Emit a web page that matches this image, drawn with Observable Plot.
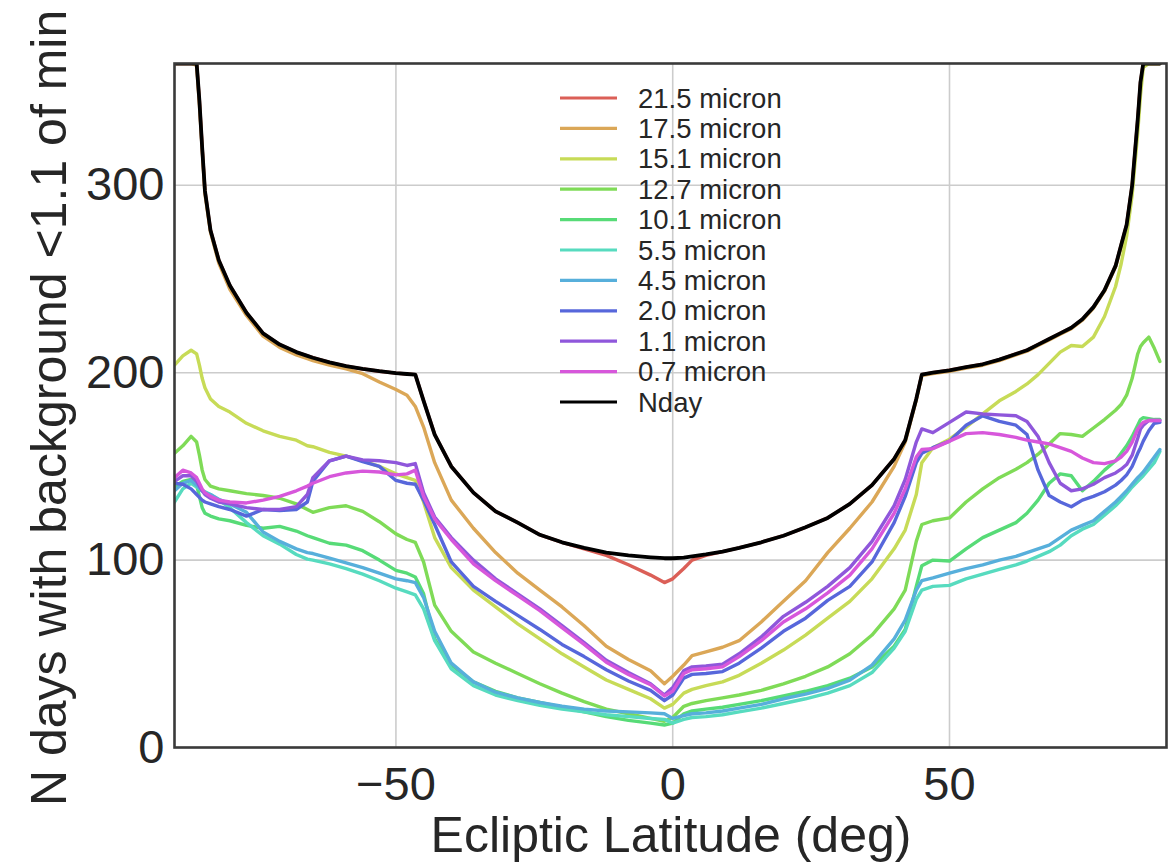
<!DOCTYPE html>
<html>
<head>
<meta charset="utf-8">
<script src="https://cdn.jsdelivr.net/npm/d3@7"></script>
<script src="https://cdn.jsdelivr.net/npm/@observablehq/plot@0.6"></script>
<style>
  html, body { margin: 0; padding: 0; background: #ffffff; }
  #chart { width: 1168px; height: 866px; }
</style>
</head>
<body>
<div id="chart"></div>
<script>
// Ecliptic latitude samples (deg)
const lat = [-90, -88.5, -87, -86, -85.5, -85, -84.5, -83.5, -82, -80,
  -77, -74, -71, -68, -66, -65, -62, -59, -56, -53,
  -50, -48, -46.5, -45, -43, -40, -36, -32, -28, -24,
  -20, -16, -12, -8, -4, -1.5, 0, 2, 3.5, 6,
  9, 12, 16, 20, 24, 28, 32, 36, 40, 42,
  44, 45, 47, 50, 53, 56, 59, 62, 64, 66,
  68, 70, 72, 74, 76, 78, 80, 81, 82, 83,
  84, 84.5, 85, 86, 87, 88];

// Number of observable days at each latitude
const nday = [365, 365, 365, 365, 345, 320, 297, 276, 260, 246.5,
  232, 221, 215, 211, 209, 208, 205.5, 203.5, 202, 200.8,
  199.8, 199.3, 199, 185, 167, 150, 136, 126, 120, 113.5,
  109.5, 106.5, 104, 102.5, 101.5, 101, 101, 101.3, 102, 103,
  104.5, 106.5, 109.5, 113, 117.5, 122.5, 130, 140, 154, 164,
  186, 199, 200, 201.3, 203, 204.5, 207, 210, 212, 215,
  218, 221, 224, 228.5, 235, 244, 257, 268, 279, 300,
  335, 355, 365, 365, 365, 365];

// Days with background below 1.1x the minimum, per wavelength
const w21_5 = [365, 365, 365, 365, 345, 320, 297, 276, 260, 246.5,
  232, 221, 215, 211, 209, 208, 205.5, 203.5, 202, 200.8,
  199.8, 199.3, 199, 185, 167, 150, 136, 126, 120, 113.5,
  109.5, 106, 102.5, 97.5, 92, 88, 90, 95.5, 100, 102.5,
  104.5, 106.5, 109.5, 113, 117.5, 122.5, 130, 140, 154, 164,
  186, 199, 200, 201.3, 203, 204.5, 207, 210, 212, 215,
  218, 221, 224, 228.5, 235, 244, 257, 268, 279, 300,
  335, 355, 365, 365, 365, 365];

const w17_5 = [365, 365, 365, 364, 343, 319, 295.5, 275, 258.5, 244.5,
  230.5, 219.5, 213.5, 209.5, 207.5, 206.5, 204, 202, 199.5, 195,
  191, 188, 182, 171, 152, 132, 117, 104, 93, 84,
  75, 65, 54, 47, 41, 34, 38, 44, 49, 51,
  53.5, 57, 67, 78, 89, 104, 117, 131, 150, 163,
  185.5, 198.5, 199.5, 200.8, 202.5, 204, 206.5, 209.5, 211.5, 214.5,
  217.5, 220.5, 223.5, 228, 234.5, 243.5, 256.5, 267, 278, 299,
  333, 353, 365, 365, 365, 365];

const w15_1 = [204, 209, 212, 210, 204, 197, 192, 186, 182, 179,
  173, 169, 166, 164, 161, 160.5, 157.5, 155.5, 153, 150,
  146, 144, 142.5, 131, 112, 96, 84, 75, 66, 58,
  50, 43, 36, 31, 26, 21, 23, 29, 31, 33,
  35, 38.5, 45, 52, 60, 69, 78, 90, 106, 116,
  135, 152, 160, 164.5, 171, 178, 185, 190, 194, 199,
  205, 211, 214.5, 214, 219, 230, 246, 258, 273, 295,
  328, 348, 363, 365, 365, 365];

const w12_7 = [157, 161, 166, 163, 156, 148, 143, 139.5, 138, 137,
  135.5, 134.5, 133, 130, 127, 125.5, 128, 129, 126, 120.5,
  114, 111, 109.5, 99, 76, 62, 51, 45, 39.5, 34,
  29, 24.5, 20.5, 18, 15.5, 14, 16, 22, 23.5, 25,
  26.5, 28, 30.5, 34, 38, 43, 50, 60, 74, 84,
  110, 119, 121, 122.5, 131, 138, 144, 148.5, 152, 156.5,
  162, 167.5, 167, 166, 170.5, 175, 180, 183, 188, 197,
  210, 214, 216, 219, 213, 206];

const w10_1 = [139, 142, 143, 140, 134, 128, 125, 123.5, 122, 121,
  118.5, 117, 118, 115.5, 113, 112, 109, 108, 105, 100,
  94.5, 93, 91, 82, 58, 44, 35, 30, 26.5, 24,
  21.5, 19, 16.5, 14.5, 13, 12, 13, 18, 19.5, 20.5,
  21.5, 23, 25, 27.5, 30, 33, 37, 43, 54, 63,
  86, 97, 100, 99.5, 106, 112, 116, 120, 125, 132,
  141, 146, 145, 137, 142, 148, 153, 157, 161, 166,
  172, 175, 176, 175.5, 175, 175];

const w5_5 = [131, 138, 141, 139, 138, 137, 136.5, 135, 132, 128,
  120, 113, 108.5, 103, 100.5, 100, 98, 95.5, 92.5, 89,
  85, 83, 81.5, 74, 57, 42, 33, 28, 25, 22.5,
  20.5, 19, 17.5, 16.5, 15.5, 15, 13, 15, 16, 16.5,
  17.5, 19, 21, 23.5, 26, 29, 33, 40, 53, 62,
  79, 84, 86, 86.5, 90, 92.5, 95, 97.5, 99.5, 102,
  104.5, 108, 113, 116.5, 119, 124, 129, 132, 135.5, 139,
  142, 143.5, 145, 148.5, 152, 158];

const w4_5 = [137, 141, 142.5, 140, 138.5, 137, 136, 135, 132.5, 130,
  125.5, 115, 110, 106, 104, 103.5, 101, 98.5, 96, 93,
  90, 89, 88, 80, 62, 45, 35, 29.5, 26.5, 24,
  22, 20.5, 19.5, 19, 18.5, 18, 15.5, 17, 18, 18.5,
  19.5, 21, 23, 26, 28.5, 31.5, 36, 44, 58, 68,
  84, 89, 90.5, 93, 95.5, 97.5, 100, 102, 104, 106,
  108, 112, 116, 118.5, 121, 126, 131, 134, 137, 140.5,
  144, 145.5, 147, 151, 155, 159];

const w2_0 = [141, 140.5, 138, 135, 133.5, 132, 131, 130, 128.5, 127,
  123.5, 127, 126.5, 127, 131, 142, 153, 155.5, 152.5, 150,
  142.5, 141, 140.5, 132, 119, 99, 86, 78, 70.5, 63,
  55, 48.5, 41.5, 35.5, 30.5, 25, 28, 37, 39, 39.5,
  40.5, 45, 53, 62, 69, 78.5, 86, 99, 120, 134,
  152, 157, 160, 163.5, 172, 177, 174, 172, 167, 148,
  134.5, 131, 128.5, 132, 134, 136.5, 140, 142.5, 145.5, 150,
  157, 160, 163.5, 169, 173, 173.5];

const w1_1 = [142, 145, 145, 142, 139.5, 137, 135, 133, 131, 130,
  128, 127, 127, 128.5, 135, 144, 153, 155.5, 153.5, 153,
  152, 150.5, 151.5, 136, 123, 112, 100, 90, 82, 74,
  65, 56, 46.5, 40, 34, 28, 32, 41, 43, 43.5,
  44.5, 50, 59, 70, 77.5, 86, 96, 110, 129, 143,
  163, 170, 168, 173.5, 179, 178, 177.5, 177, 174, 166,
  152, 141, 137, 138, 140.5, 144, 146.5, 148.5, 151, 156,
  165, 170, 172, 174.5, 174.5, 174.5];

const w0_7 = [144, 148, 146.5, 144, 141, 138, 136, 134, 132, 131,
  130.5, 132, 134, 137, 139.5, 141, 144.5, 146.5, 147.5, 147,
  145.5, 146, 148, 134, 122, 111, 98, 89, 81, 73,
  64, 55, 45.5, 39, 33.5, 27.5, 30, 39.5, 41.5, 42,
  43, 48.5, 57, 67, 74, 82.5, 92, 106, 125, 138,
  155, 159, 159.5, 163.5, 167.5, 168, 167, 165.5, 164, 163,
  162, 160, 158, 154.5, 152, 151.5, 153, 155, 158, 163,
  170, 172, 173.5, 174.5, 174.5, 174.5];

const bandLabels = ["21.5 micron", "17.5 micron", "15.1 micron", "12.7 micron", "10.1 micron",
  "5.5 micron", "4.5 micron", "2.0 micron", "1.1 micron", "0.7 micron"];
const bandColors = ["#db5f57", "#dba757", "#c7db57", "#7fdb57", "#57db77",
  "#57dbbf", "#57afdb", "#5767db", "#8f57db", "#d757db"];
const bandValues = [w21_5, w17_5, w15_1, w12_7, w10_1, w5_5, w4_5, w2_0, w1_1, w0_7];
const ndayLabel = "Nday";

const xTicks = [-50, 0, 50];
const yTicks = [0, 100, 200, 300];

// Long-form table for the wavelength curves, in drawing order
const rows = [];
bandLabels.forEach((band, i) => {
  bandValues[i].forEach((v, j) => rows.push({lat: lat[j], days: v, band}));
});
const ndayRows = lat.map((l, j) => ({lat: l, days: nday[j]}));

const fontFamily = "'Liberation Sans', Arial, Helvetica, sans-serif";
const textColor = "#262626";
const minusFormat = d => d < 0 ? "\u2212" + Math.abs(d) : String(d);

const chart = Plot.plot({
  width: 1168,
  height: 866,
  marginLeft: 174,
  marginRight: 2,
  marginTop: 63,
  marginBottom: 119,
  style: {fontFamily, background: "#ffffff", color: textColor},
  x: {domain: [-90, 89.2], label: null},
  y: {domain: [0, 365], label: null},
  color: {domain: bandLabels, range: bandColors},
  marks: [
    Plot.gridX(xTicks, {stroke: "#cccccc", strokeOpacity: 1, strokeWidth: 1.6}),
    Plot.gridY(yTicks, {stroke: "#cccccc", strokeOpacity: 1, strokeWidth: 1.6}),
    Plot.axisX(xTicks, {tickSize: 0, tickPadding: 19, fontSize: 47, tickFormat: minusFormat, label: null, fill: textColor}),
    Plot.axisY(yTicks, {tickSize: 0, tickPadding: 10, fontSize: 47, label: null, fill: textColor}),
    Plot.line(rows, {x: "lat", y: "days", z: "band", stroke: "band", strokeWidth: 3.4, clip: true}),
    Plot.line(ndayRows, {x: "lat", y: "days", stroke: "#000000", strokeWidth: 3.8, clip: true}),
    Plot.frame({stroke: "#3a3a3a", strokeWidth: 2.6})
  ]
});

document.getElementById("chart").appendChild(chart);

const svg = d3.select(chart);

// Axis titles
svg.append("text")
  .attr("x", 671)
  .attr("y", 852)
  .attr("text-anchor", "middle")
  .attr("font-family", fontFamily)
  .attr("font-size", 50)
  .attr("fill", textColor)
  .text("Ecliptic Latitude (deg)");

svg.append("text")
  .attr("transform", "translate(66,806) rotate(-90)")
  .attr("text-anchor", "start")
  .attr("font-family", fontFamily)
  .attr("font-size", 50)
  .attr("fill", textColor)
  .text("N days with background <1.1 of min");

// Legend: one short line and label per curve
const legendNames = bandLabels.concat([ndayLabel]);
const legendColors = bandColors.concat(["#000000"]);
const legend = svg.append("g")
  .attr("font-family", fontFamily)
  .attr("font-size", 27.5)
  .attr("text-anchor", "start")
  .attr("fill", textColor);
legendNames.forEach((name, i) => {
  const y = 98 + i * 30.4;
  legend.append("line")
    .attr("x1", 560).attr("x2", 617)
    .attr("y1", y).attr("y2", y)
    .attr("stroke", legendColors[i])
    .attr("stroke-width", 3.2);
  legend.append("text")
    .attr("x", 638)
    .attr("y", y)
    .attr("dy", "0.35em")
    .attr("text-anchor", "start")
    .text(name);
});
</script>
</body>
</html>
